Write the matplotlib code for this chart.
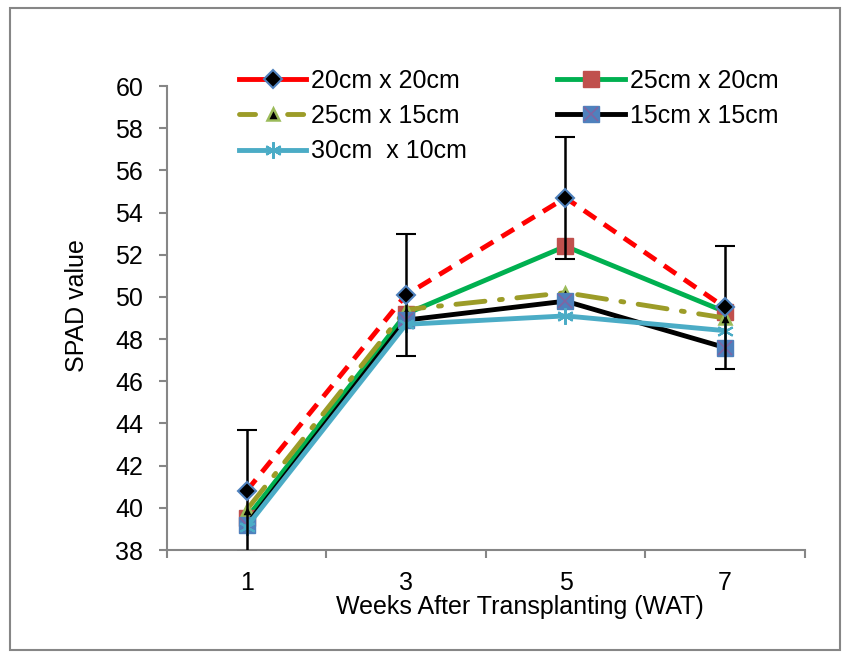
import matplotlib
matplotlib.use("Agg")
import matplotlib.pyplot as plt
from matplotlib.patches import Rectangle
from matplotlib.lines import Line2D
import numpy as np

plt.rcParams['font.family'] = ['Liberation Sans', 'DejaVu Sans']

weeks = ["1", "3", "5", "7"]
s_20x20 = [40.8, 50.1, 54.7, 49.5]
s_25x20 = [39.5, 49.2, 52.4, 49.3]
s_25x15 = [39.9, 49.4, 50.2, 49.0]
s_15x15 = [39.2, 48.9, 49.8, 47.6]
s_30x10 = [39.1, 48.7, 49.1, 48.4]
err_20x20 = [2.9, 2.9, 2.9, 2.9]
labels = ["20cm x 20cm", "25cm x 20cm", "25cm x 15cm", "15cm x 15cm", "30cm  x 10cm"]

fig = plt.figure(figsize=(8.47, 6.54), dpi=100)
ax = fig.add_axes([0.197, 0.159, 0.753, 0.7095])
x = np.arange(len(weeks))

lw = 3.5
ax.errorbar(x, s_20x20, yerr=err_20x20, color='red', ls=(0, (3, 2)), lw=lw,
            marker='D', ms=9, mfc='black', mec='#4F81BD', mew=1.5,
            ecolor='black', elinewidth=1.8, capsize=7, capthick=1.8, zorder=6)
ax.plot(x, s_25x20, color='#00B050', lw=lw, marker='s', ms=11.5,
        mfc='#C0504D', mec='#C0504D', zorder=2)
ax.plot(x, s_25x15, color='#9C9C28', lw=lw, ls=(0, (6, 3, 0.6, 3)),
        marker='^', ms=9, mfc='black', mec='#9BBB59', mew=1.8,
        dash_capstyle='round', zorder=3)
ax.plot(x, s_15x15, color='black', lw=lw, marker='s', ms=11.5,
        mfc='#4F81BD', mec='#4F81BD', zorder=4)
ax.plot(x, s_15x15, ls='none', marker='x', ms=10, mec='#8064A2', mew=1.2, zorder=4.1)
ax.plot(x, s_30x10, color='#4BACC6', lw=lw, marker=(6, 2, 0), ms=12,
        mec='#4BACC6', mew=1.5, zorder=5)

ax.set_xlim(-0.5, 3.5)
ax.set_ylim(38, 60)
ax.set_yticks(np.arange(38, 61, 2))
ax.set_xticks(x)
ax.set_xticklabels(weeks)
ax.set_xticks(np.arange(-0.5, 3.6, 1), minor=True)
ax.tick_params(axis='x', which='major', length=0, pad=15, labelsize=18)
ax.tick_params(axis='x', which='minor', length=6, width=1.5, color='#868686', direction='out')
ax.tick_params(axis='y', length=6, width=1.5, color='#868686', direction='out', labelsize=18, pad=11)
for sp in ['top', 'right']:
    ax.spines[sp].set_visible(False)
for sp in ['left', 'bottom']:
    ax.spines[sp].set_color('#868686')
    ax.spines[sp].set_linewidth(1.5)

fig.text(0.614, 0.072, "Weeks After Transplanting (WAT)", ha='center', va='center', fontsize=18)
fig.text(0.091, 0.533, "SPAD value", ha='center', va='center', rotation=90, fontsize=18)

lh_red = Line2D([], [], color='red', lw=lw, marker='D', ms=9, mfc='black', mec='#4F81BD', mew=1.5)
lh_green = Line2D([], [], color='#00B050', lw=lw, marker='s', ms=11.5, mfc='#C0504D', mec='#C0504D')
lh_olive = Line2D([], [], color='#9C9C28', lw=lw, ls=(0, (3.3, 6.6)), dash_capstyle='round',
                  marker='^', ms=9, mfc='black', mec='#9BBB59', mew=1.8)
lh_black = Line2D([], [], color='black', lw=lw, marker='s', ms=11.5, mfc='#4F81BD', mec='#4F81BD')
lh_black_x = Line2D([], [], ls='none', marker='x', ms=10, mec='#8064A2', mew=1.2)
lh_cyan = Line2D([], [], color='#4BACC6', lw=lw, marker=(6, 2, 0), ms=12, mec='#4BACC6', mew=1.5)

fig.legend([lh_red, lh_olive, lh_cyan, lh_green, (lh_black, lh_black_x)],
           [labels[0], labels[2], labels[4], labels[1], labels[3]],
           ncol=2, frameon=False, loc='upper left', bbox_to_anchor=(0.282, 0.8945),
           bbox_transform=fig.transFigure, borderpad=0, borderaxespad=0,
           fontsize=18, handlelength=2.7, handletextpad=0.2, columnspacing=3.6,
           labelspacing=0.45)

fig.patches.append(Rectangle((0.012, 0.006), 0.98, 0.982, transform=fig.transFigure,
                             fill=False, edgecolor='#868686', lw=1.5))

fig.savefig("out.png", dpi=100)
